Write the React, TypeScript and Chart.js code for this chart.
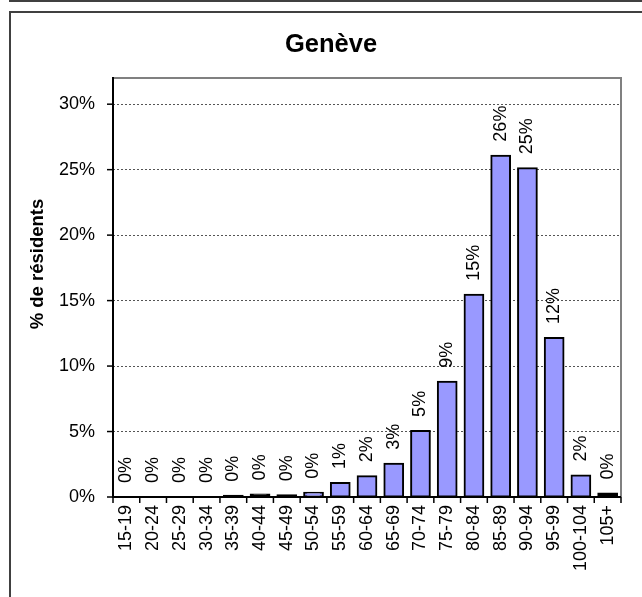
import React, { useEffect, useRef } from "react";
import { Chart, registerables } from "chart.js";

Chart.register(...registerables);

const chartTitle = "Genève";
const yAxisTitle = "% de résidents";
const categories = [
  "15-19", "20-24", "25-29", "30-34", "35-39", "40-44", "45-49", "50-54",
  "55-59", "60-64", "65-69", "70-74", "75-79", "80-84", "85-89", "90-94",
  "95-99", "100-104", "105+",
];
const residentsPct = [
  0, 0, 0, 0, 0.1, 0.2, 0.13, 0.33, 1.07, 1.58, 2.54, 5.05, 8.8, 15.45, 26.07,
  25.1, 12.15, 1.65, 0.26,
];
const yTickStep = 5;
const yMax = 32;

const FONT = "'Liberation Sans', Arial, Helvetica, sans-serif";

const decorPlugin = {
  id: "decor",
  beforeDraw(chart: any) {
    const { ctx, width, height } = chart;
    ctx.save();
    ctx.fillStyle = "#ffffff";
    ctx.fillRect(0, 0, width, height);
    ctx.strokeStyle = "#404040";
    ctx.lineWidth = 2;
    ctx.beginPath();
    ctx.moveTo(10, -2);
    ctx.lineTo(10, 1);
    ctx.lineTo(width + 5, 1);
    ctx.stroke();
    ctx.strokeRect(10, 12, width + 20, height + 20);
    ctx.restore();
  },
  afterDraw(chart: any) {
    const { ctx, chartArea } = chart;
    const { left, right, top, bottom } = chartArea;
    ctx.save();
    ctx.strokeStyle = "#808080";
    ctx.lineWidth = 2;
    ctx.beginPath();
    ctx.moveTo(left, top);
    ctx.lineTo(right, top);
    ctx.lineTo(right, bottom);
    ctx.stroke();
    ctx.strokeStyle = "#000000";
    ctx.lineWidth = 2;
    ctx.beginPath();
    ctx.moveTo(left, top - 1);
    ctx.lineTo(left, bottom);
    ctx.lineTo(right, bottom);
    ctx.stroke();
    ctx.lineWidth = 1.5;
    const ys = chart.scales.y;
    ys.ticks.forEach((t: any) => {
      const y = ys.getPixelForValue(t.value);
      ctx.beginPath();
      ctx.moveTo(left - 6, y);
      ctx.lineTo(left, y);
      ctx.stroke();
    });
    const n = categories.length;
    for (let i = 0; i <= n; i++) {
      const x = left + (i * (right - left)) / n;
      ctx.beginPath();
      ctx.moveTo(x, bottom);
      ctx.lineTo(x, bottom + 6);
      ctx.stroke();
    }
    ctx.fillStyle = "#000000";
    ctx.font = `18px ${FONT}`;
    ctx.textAlign = "left";
    ctx.textBaseline = "middle";
    const meta = chart.getDatasetMeta(0);
    meta.data.forEach((bar: any, i: number) => {
      const v = residentsPct[i];
      const y = ys.getPixelForValue(v);
      ctx.save();
      ctx.translate(bar.x, y - 14);
      ctx.rotate(-Math.PI / 2);
      ctx.fillText(`${Math.round(v)}%`, 0, 0);
      ctx.restore();
    });
    ctx.font = `bold 25.5px ${FONT}`;
    ctx.textAlign = "center";
    ctx.textBaseline = "alphabetic";
    ctx.fillText(chartTitle, 331, 52);
    ctx.font = `bold 18.5px ${FONT}`;
    ctx.save();
    ctx.translate(38, 264);
    ctx.rotate(-Math.PI / 2);
    ctx.textBaseline = "middle";
    ctx.fillText(yAxisTitle, 0, 0);
    ctx.restore();
    ctx.restore();
  },
};

export default function App() {
  const ref = useRef<HTMLCanvasElement | null>(null);
  useEffect(() => {
    if (!ref.current) return;
    const chart = new Chart(ref.current, {
      type: "bar",
      data: {
        labels: categories,
        datasets: [
          {
            data: residentsPct,
            backgroundColor: (c: any) =>
              c.raw > 0 && c.raw < 0.3 ? "#000000" : "#9999FF",
            borderColor: "#000000",
            borderWidth: (c: any) => (c.raw === 0 ? 0 : 2),
            inflateAmount: (c: any) => (c.raw === 0 ? 0 : 1),
            borderSkipped: false,
            categoryPercentage: 1,
            barPercentage: 0.7,
          } as any,
        ],
      },
      options: {
        responsive: false,
        animation: false,
        devicePixelRatio: 1,
        layout: { padding: { left: 0, right: 21, top: 78, bottom: 0 } },
        plugins: {
          legend: { display: false },
          title: { display: false },
          tooltip: { enabled: false },
        },
        scales: {
          x: {
            grid: { display: false, drawTicks: false },
            border: { display: false },
            ticks: {
              color: "#000",
              font: { family: FONT, size: 18 },
              minRotation: 90,
              maxRotation: 90,
              autoSkip: false,
              padding: 8,
            },
            afterFit: (s: any) => {
              s.height = 100;
            },
          },
          y: {
            min: 0,
            max: yMax,
            grid: {
              color: "#555555",
              lineWidth: 1,
              drawTicks: false,
            },
            border: { display: false, dash: [2, 2] },
            ticks: {
              stepSize: yTickStep,
              color: "#000",
              font: { family: FONT, size: 18 },
              padding: 18,
              callback: (v: any) => `${v}%`,
            },
            afterBuildTicks: (s: any) => {
              s.ticks = s.ticks.filter((t: any) => t.value % yTickStep === 0);
            },
            afterFit: (s: any) => {
              s.width = 113;
            },
          },
        },
      },
      plugins: [decorPlugin],
    });
    return () => chart.destroy();
  }, []);
  return (
    <div style={{ position: "absolute", left: 0, top: 0, width: 642, height: 597 }}>
      <canvas ref={ref} width={642} height={597} style={{ display: "block" }} />
    </div>
  );
}
